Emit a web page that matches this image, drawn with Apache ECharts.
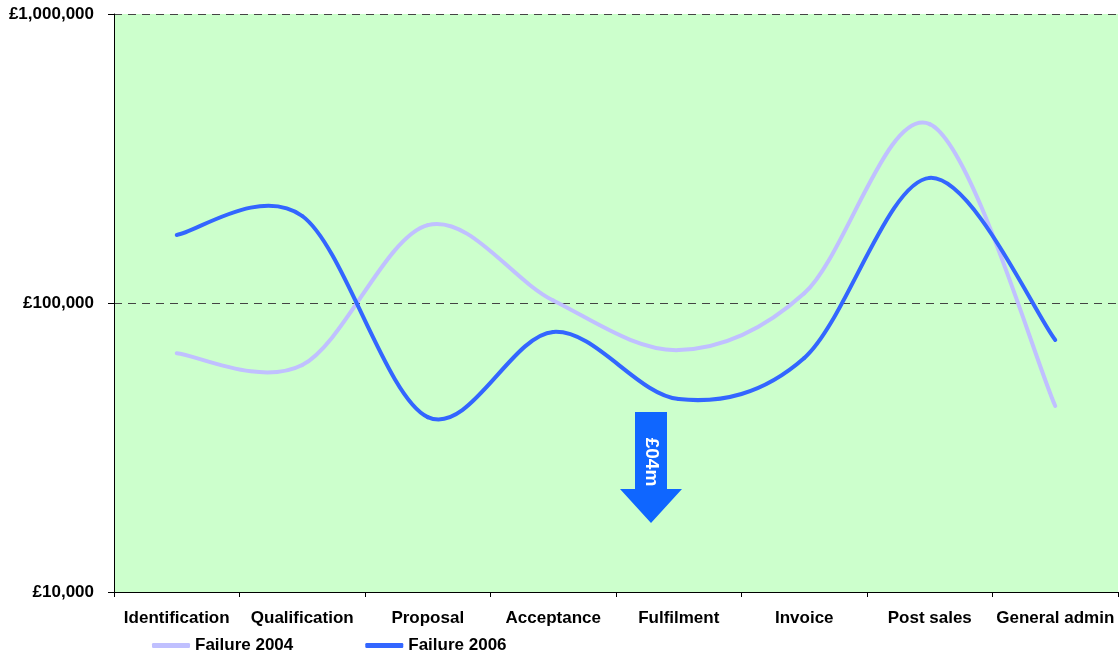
<!DOCTYPE html>
<html>
<head>
<meta charset="utf-8">
<script src="https://cdn.jsdelivr.net/npm/echarts@6/dist/echarts.min.js"></script>
<style>
  html, body { margin: 0; padding: 0; background: #fff; }
  #main { width: 1120px; height: 654px; }
</style>
</head>
<body>
<div id="main"></div>
<script>
const categories = ["Identification", "Qualification", "Proposal", "Acceptance", "Fulfilment", "Invoice", "Post sales", "General admin"];
const failure2004 = [67000, 61000, 186000, 102000, 68700, 108000, 416000, 44000];
const failure2006 = [172000, 200000, 40300, 79400, 46500, 64500, 271000, 74500];
const arrowText = "£04m";

const chart = echarts.init(document.getElementById("main"));
const font = "Liberation Sans, Arial, sans-serif";

// smooth line like a spreadsheet chart: one bezier per segment, through the axis scales
function smoothSeries(name, values, color, z) {
    return {
        name: name,
        type: "custom",
        data: values.slice(0, -1).map((v, i) => [i, v]),
        encode: { x: 0, y: 1 },
        itemStyle: { color: color },
        z: z,
        renderItem: (params, api) => {
            const i = params.dataIndex;
            const n = values.length;
            const pt = k => api.coord([Math.max(0, Math.min(n - 1, k)), values[Math.max(0, Math.min(n - 1, k))]]);
            const p0 = pt(i - 1), p1 = pt(i), p2 = pt(i + 1), p3 = pt(i + 2);
            return {
                type: "bezierCurve",
                shape: {
                    x1: p1[0], y1: p1[1],
                    x2: p2[0], y2: p2[1],
                    cpx1: p1[0] + (p2[0] - p0[0]) / 6, cpy1: p1[1] + (p2[1] - p0[1]) / 6,
                    cpx2: p2[0] - (p3[0] - p1[0]) / 6, cpy2: p2[1] - (p3[1] - p1[1]) / 6
                },
                style: { stroke: color, lineWidth: 4, fill: null, lineCap: "round" }
            };
        }
    };
}

const option = {
    animation: false,
    textStyle: { fontFamily: font },
    grid: { left: 114, right: 2, top: 14, bottom: 62 },
    legend: {
        left: 152,
        top: 637,
        padding: 0,
        itemWidth: 38,
        itemHeight: 5,
        itemGap: 72,
        icon: "roundRect",
        textStyle: { fontFamily: font, fontWeight: "bold", fontSize: 17, color: "#000" },
        data: ["Failure 2004", "Failure 2006"]
    },
    xAxis: {
        type: "category",
        data: categories,
        boundaryGap: true,
        axisLine: { lineStyle: { color: "#000", width: 1 } },
        axisTick: { show: true, length: 5, lineStyle: { color: "#000" } },
        axisLabel: { margin: 18, fontFamily: font, fontWeight: "bold", fontSize: 17, color: "#000", interval: 0 },
        splitLine: { show: false }
    },
    yAxis: {
        type: "log",
        logBase: 10,
        min: 10000,
        max: 1000000,
        axisLine: { show: true, lineStyle: { color: "#000", width: 1 } },
        axisTick: { show: true, length: 6, lineStyle: { color: "#000" } },
        minorTick: { show: false },
        axisLabel: {
            margin: 20,
            fontFamily: font,
            fontWeight: "bold",
            fontSize: 17,
            color: "#000",
            formatter: v => "£" + Math.round(v).toLocaleString("en-GB")
        },
        splitLine: { show: true, lineStyle: { color: "#444", type: [8, 6], width: 1 } },
        splitArea: { show: false }
    },
    series: [
        smoothSeries("Failure 2004", failure2004, "#C0C0FF", 2),
        smoothSeries("Failure 2006", failure2006, "#3366FF", 3)
    ],
    graphic: [
        {
            type: "rect",
            shape: { x: 114, y: 14, width: 1004, height: 578 },
            style: { fill: "#CCFFCC" },
            z: -10,
            silent: true
        },
        {
            type: "polygon",
            shape: {
                points: [[635, 412], [667, 412], [667, 489], [682, 489], [651, 523], [620, 489], [635, 489]]
            },
            style: { fill: "#0F66FF" },
            z: 10
        },
        {
            type: "text",
            x: 651,
            y: 462,
            rotation: -Math.PI / 2,
            style: {
                text: arrowText,
                fill: "#fff",
                font: "bold 19px " + font,
                align: "center",
                verticalAlign: "middle"
            },
            z: 11
        }
    ]
};

chart.setOption(option);
</script>
</body>
</html>
